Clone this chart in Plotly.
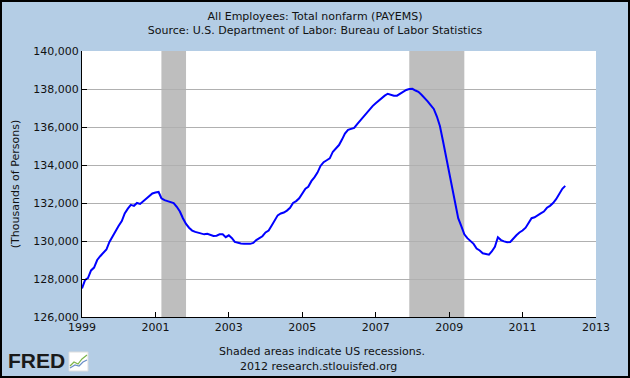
import plotly.graph_objects as go
import pandas as pd

# Monthly values, Jan 1999 .. Mar 2012 (thousands of persons)
v1999 = [127500, 127950, 128050, 128450, 128600, 129000, 129200, 129400, 129550, 129950, 130250, 130500]
v2000 = [130800, 131050, 131450, 131700, 131900, 131850, 132000, 131950, 132100, 132200, 132350, 132500]
v2001 = [132550, 132580, 132250, 132150, 132100, 132050, 132000, 131800, 131550, 131200, 130900, 130700]
v2002 = [130550, 130480, 130450, 130380, 130350, 130380, 130300, 130260, 130280, 130350, 130350, 130200]
v2003 = [130300, 130150, 129950, 129900, 129870, 129860, 129850, 129850, 129900, 130050, 130150, 130250]
v2004 = [130450, 130550, 130800, 131050, 131350, 131450, 131500, 131600, 131750, 132000, 132100, 132250]
v2005 = [132500, 132750, 132850, 133150, 133350, 133600, 133950, 134150, 134250, 134350, 134700, 134850]
v2006 = [135050, 135350, 135650, 135850, 135900, 135950, 136150, 136350, 136500, 136700, 136900, 137100]
v2007 = [137250, 137400, 137550, 137650, 137750, 137700, 137650, 137650, 137750, 137850, 137950, 138000]
v2008 = [138010, 137920, 137850, 137700, 137550, 137350, 137150, 136950, 136550, 136050, 135250, 134450]
v2009 = [133500, 132750, 131950, 131200, 130800, 130350, 130150, 130000, 129850, 129600, 129500, 129350]
v2010 = [129300, 129280, 129450, 129700, 130200, 130050, 129980, 129930, 129950, 130150, 130300, 130450]
v2011 = [130550, 130700, 130950, 131200, 131250, 131330, 131450, 131550, 131750, 131850, 132000, 132200]
v2012 = [132500, 132750, 132900]

values = v1999 + v2000 + v2001 + v2002 + v2003 + v2004 + v2005 + v2006 + v2007 + v2008 + v2009 + v2010 + v2011 + v2012
dates = pd.date_range("1999-01-01", periods=len(values), freq="MS")

recession_starts = ["2001-03-01", "2007-12-01"]
recession_ends = ["2001-11-01", "2009-06-01"]

y_ticks = [126000, 128000, 130000, 132000, 134000, 136000, 138000, 140000]
x_ticks = ["1999-01-01", "2001-01-01", "2003-01-01", "2005-01-01", "2007-01-01",
           "2009-01-01", "2011-01-01", "2013-01-01"]
x_labels = ["1999", "2001", "2003", "2005", "2007", "2009", "2011", "2013"]

BG = "#B4CDE5"
FONT = "DejaVu Sans"

fig = go.Figure()
fig.add_trace(go.Scatter(x=dates, y=values, mode="lines",
                         line=dict(color="#0000FF", width=2), hoverinfo="skip"))

shapes = []
for s, e in zip(recession_starts, recession_ends):
    shapes.append(dict(type="rect", xref="x", yref="paper", x0=s, x1=e, y0=0, y1=1,
                       fillcolor="#BEBEBE", line=dict(width=0), layer="between"))

# outer black border of the image
W, H = 630, 378
L, R, T, B = 82, 34, 51, 61
pw, ph = W - L - R, H - T - B
def px(x):
    return (x - L) / pw
def py(y):
    return (H - B - y) / ph
shapes.append(dict(type="rect", xref="paper", yref="paper",
                   x0=px(1), x1=px(W - 1), y0=py(H - 1), y1=py(1),
                   line=dict(color="black", width=2), fillcolor="rgba(0,0,0,0)", layer="above"))
# small FRED chart icon
shapes.append(dict(type="rect", xref="paper", yref="paper",
                   x0=px(69), x1=px(88), y0=py(371), y1=py(352),
                   line=dict(color="#DDDDDD", width=1), fillcolor="white", layer="above"))
shapes.append(dict(type="path", xref="paper", yref="paper",
                   path=f"M {px(70)} {py(366)} L {px(74)} {py(362)} L {px(78)} {py(364)} L {px(82)} {py(359)} L {px(87)} {py(355)}",
                   line=dict(color="#7DB54A", width=1.2), layer="above"))
shapes.append(dict(type="path", xref="paper", yref="paper",
                   path=f"M {px(70)} {py(368)} L {px(75)} {py(365)} L {px(79)} {py(366)} L {px(83)} {py(362)} L {px(87)} {py(360)}",
                   line=dict(color="#6A8FC8", width=1.2), layer="above"))

annotations = [
    dict(text="Shaded areas indicate US recessions.", xref="paper", yref="paper",
         x=px(322), y=py(351), showarrow=False, font=dict(size=11, color="#111", family=FONT),
         xanchor="center", yanchor="middle"),
    dict(text="2012 research.stlouisfed.org", xref="paper", yref="paper",
         x=px(318), y=py(366), showarrow=False, font=dict(size=11, color="#111", family=FONT),
         xanchor="center", yanchor="middle"),
    dict(text="<b>FRED</b>", xref="paper", yref="paper",
         x=px(6), y=py(361), showarrow=False, font=dict(size=21, color="#1A1A1A", family="Liberation Sans"),
         xanchor="left", yanchor="middle"),
]

fig.update_layout(
    width=W, height=H,
    paper_bgcolor=BG, plot_bgcolor="white",
    margin=dict(l=L, r=R, t=T, b=B),
    showlegend=False,
    font=dict(family=FONT, size=11, color="#111"),
    title=dict(text="All Employees: Total nonfarm (PAYEMS)<br>Source: U.S. Department of Labor: Bureau of Labor Statistics",
               x=0.5, xref="container", xanchor="center", y=1 - 20 / H, yref="container", yanchor="middle",
               font=dict(family=FONT, size=11, color="#111")),
    xaxis=dict(type="date", range=["1999-01-01", "2013-01-01"], tickvals=x_ticks, ticktext=x_labels,
               showgrid=False, showline=True, linecolor="black", linewidth=1,
               ticks="inside", ticklen=5, tickcolor="black", zeroline=False,
               tickfont=dict(family=FONT, size=11, color="#111")),
    yaxis=dict(range=[126000, 140000], tickvals=y_ticks, tickformat=",",
               showgrid=True, gridcolor="#B0B0B0", gridwidth=1,
               showline=True, linecolor="black", linewidth=1,
               ticks="inside", ticklen=5, tickcolor="black", zeroline=False,
               title=dict(text="(Thousands of Persons)", font=dict(family=FONT, size=11, color="#111"), standoff=11),
               tickfont=dict(family=FONT, size=11, color="#111")),
    shapes=shapes,
    annotations=annotations,
)

fig.write_html("out.html", config={"displayModeBar": False},
               post_script="document.body.style.margin='0px';document.body.style.padding='0px';")
